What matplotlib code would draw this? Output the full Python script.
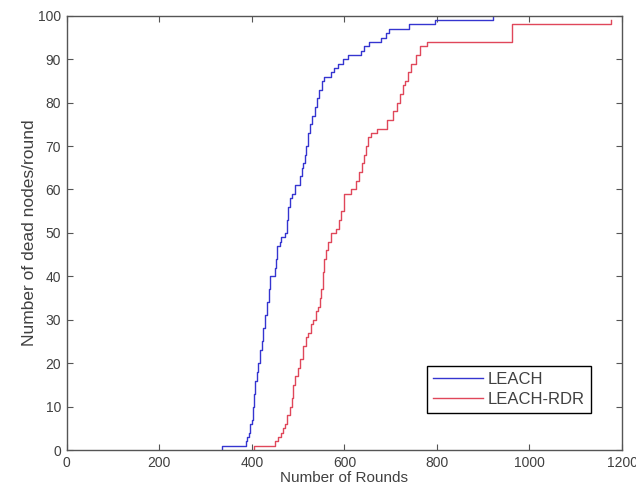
import matplotlib
matplotlib.use('Agg')
import matplotlib.pyplot as plt

plt.rcParams.update({
    "font.family": ["Liberation Sans", "DejaVu Sans"],
    "font.size": 10,
})

TEXT = "#404040"
AXIS = "#555555"
BLUE = "#3535d0"
RED = "#e0475a"

# dead nodes vs round
leach_rounds = [336, 336, 387, 390, 393, 397, 400, 403, 405, 407, 411, 414, 418, 421,
                425, 429, 432, 436, 440, 450, 452, 455, 460, 464, 471, 475, 479,
                483, 486, 493, 504, 508, 511, 515, 518, 522, 525, 530, 536, 541,
                546, 551, 557, 571, 578, 586, 596, 607, 636, 643, 654, 679, 682,
                690, 696, 739, 796, 921, 921]
leach_dead = [0, 1, 2, 3, 4, 6, 7, 10, 13, 16, 18, 20, 23, 25,
              28, 31, 34, 37, 40, 42, 44, 47, 48, 49, 50, 53, 56,
              58, 59, 61, 63, 65, 66, 68, 70, 73, 75, 77, 79, 81,
              83, 85, 86, 87, 88, 89, 90, 91, 92, 93, 94, 95, 95,
              96, 97, 98, 99, 99, 100]

rdr_rounds = [405, 405, 450, 457, 464, 468, 471, 476, 482, 486, 489, 494, 500, 505,
              511, 516, 521, 527, 532, 538, 543, 547, 550, 553, 557, 560, 564,
              571, 582, 588, 593, 600, 614, 625, 632, 639, 643, 646, 652, 657,
              671, 693, 704, 714, 721, 727, 732, 738, 743, 754, 764, 779, 963,
              1176, 1176]
rdr_dead = [0, 1, 2, 3, 4, 5, 6, 8, 10, 12, 15, 17, 19, 21,
            24, 26, 27, 29, 30, 32, 33, 35, 37, 41, 44, 46, 48,
            50, 51, 53, 55, 59, 60, 62, 64, 66, 68, 70, 72, 73,
            74, 76, 78, 80, 82, 84, 85, 87, 89, 91, 93, 94, 98,
            98, 99]

fig = plt.figure(figsize=(6.36, 4.94), dpi=100)
ax = fig.add_axes([0.105, 0.089, 0.873, 0.879])

ax.plot(leach_rounds, leach_dead, drawstyle="steps-post", color=BLUE, lw=1.0, label="LEACH")
ax.plot(rdr_rounds, rdr_dead, drawstyle="steps-post", color=RED, lw=1.0, label="LEACH-RDR")

ax.set_xlim(0, 1200)
ax.set_ylim(0, 100)
ax.set_xticks(range(0, 1201, 200))
ax.set_yticks(range(0, 101, 10))
ax.tick_params(direction="in", top=True, right=True, length=4,
               colors=AXIS, labelcolor=TEXT, labelsize=10, pad=4)
for s in ax.spines.values():
    s.set_color(AXIS)
    s.set_linewidth(1.0)

ax.set_xlabel("Number of Rounds", color=TEXT, fontsize=11, labelpad=1)
ax.set_ylabel("Number of dead nodes/round", color=TEXT, fontsize=12.5, labelpad=1)

leg = ax.legend(loc="lower right", bbox_to_anchor=(0.944, 0.085), borderaxespad=0,
                fancybox=False, framealpha=1, edgecolor="black", handlelength=3.0,
                fontsize=12, borderpad=0.35, labelspacing=0.3, handletextpad=0.3)
leg.get_frame().set_linewidth(1.0)
for t in leg.get_texts():
    t.set_color(TEXT)

fig.savefig("out.png", dpi=100)
